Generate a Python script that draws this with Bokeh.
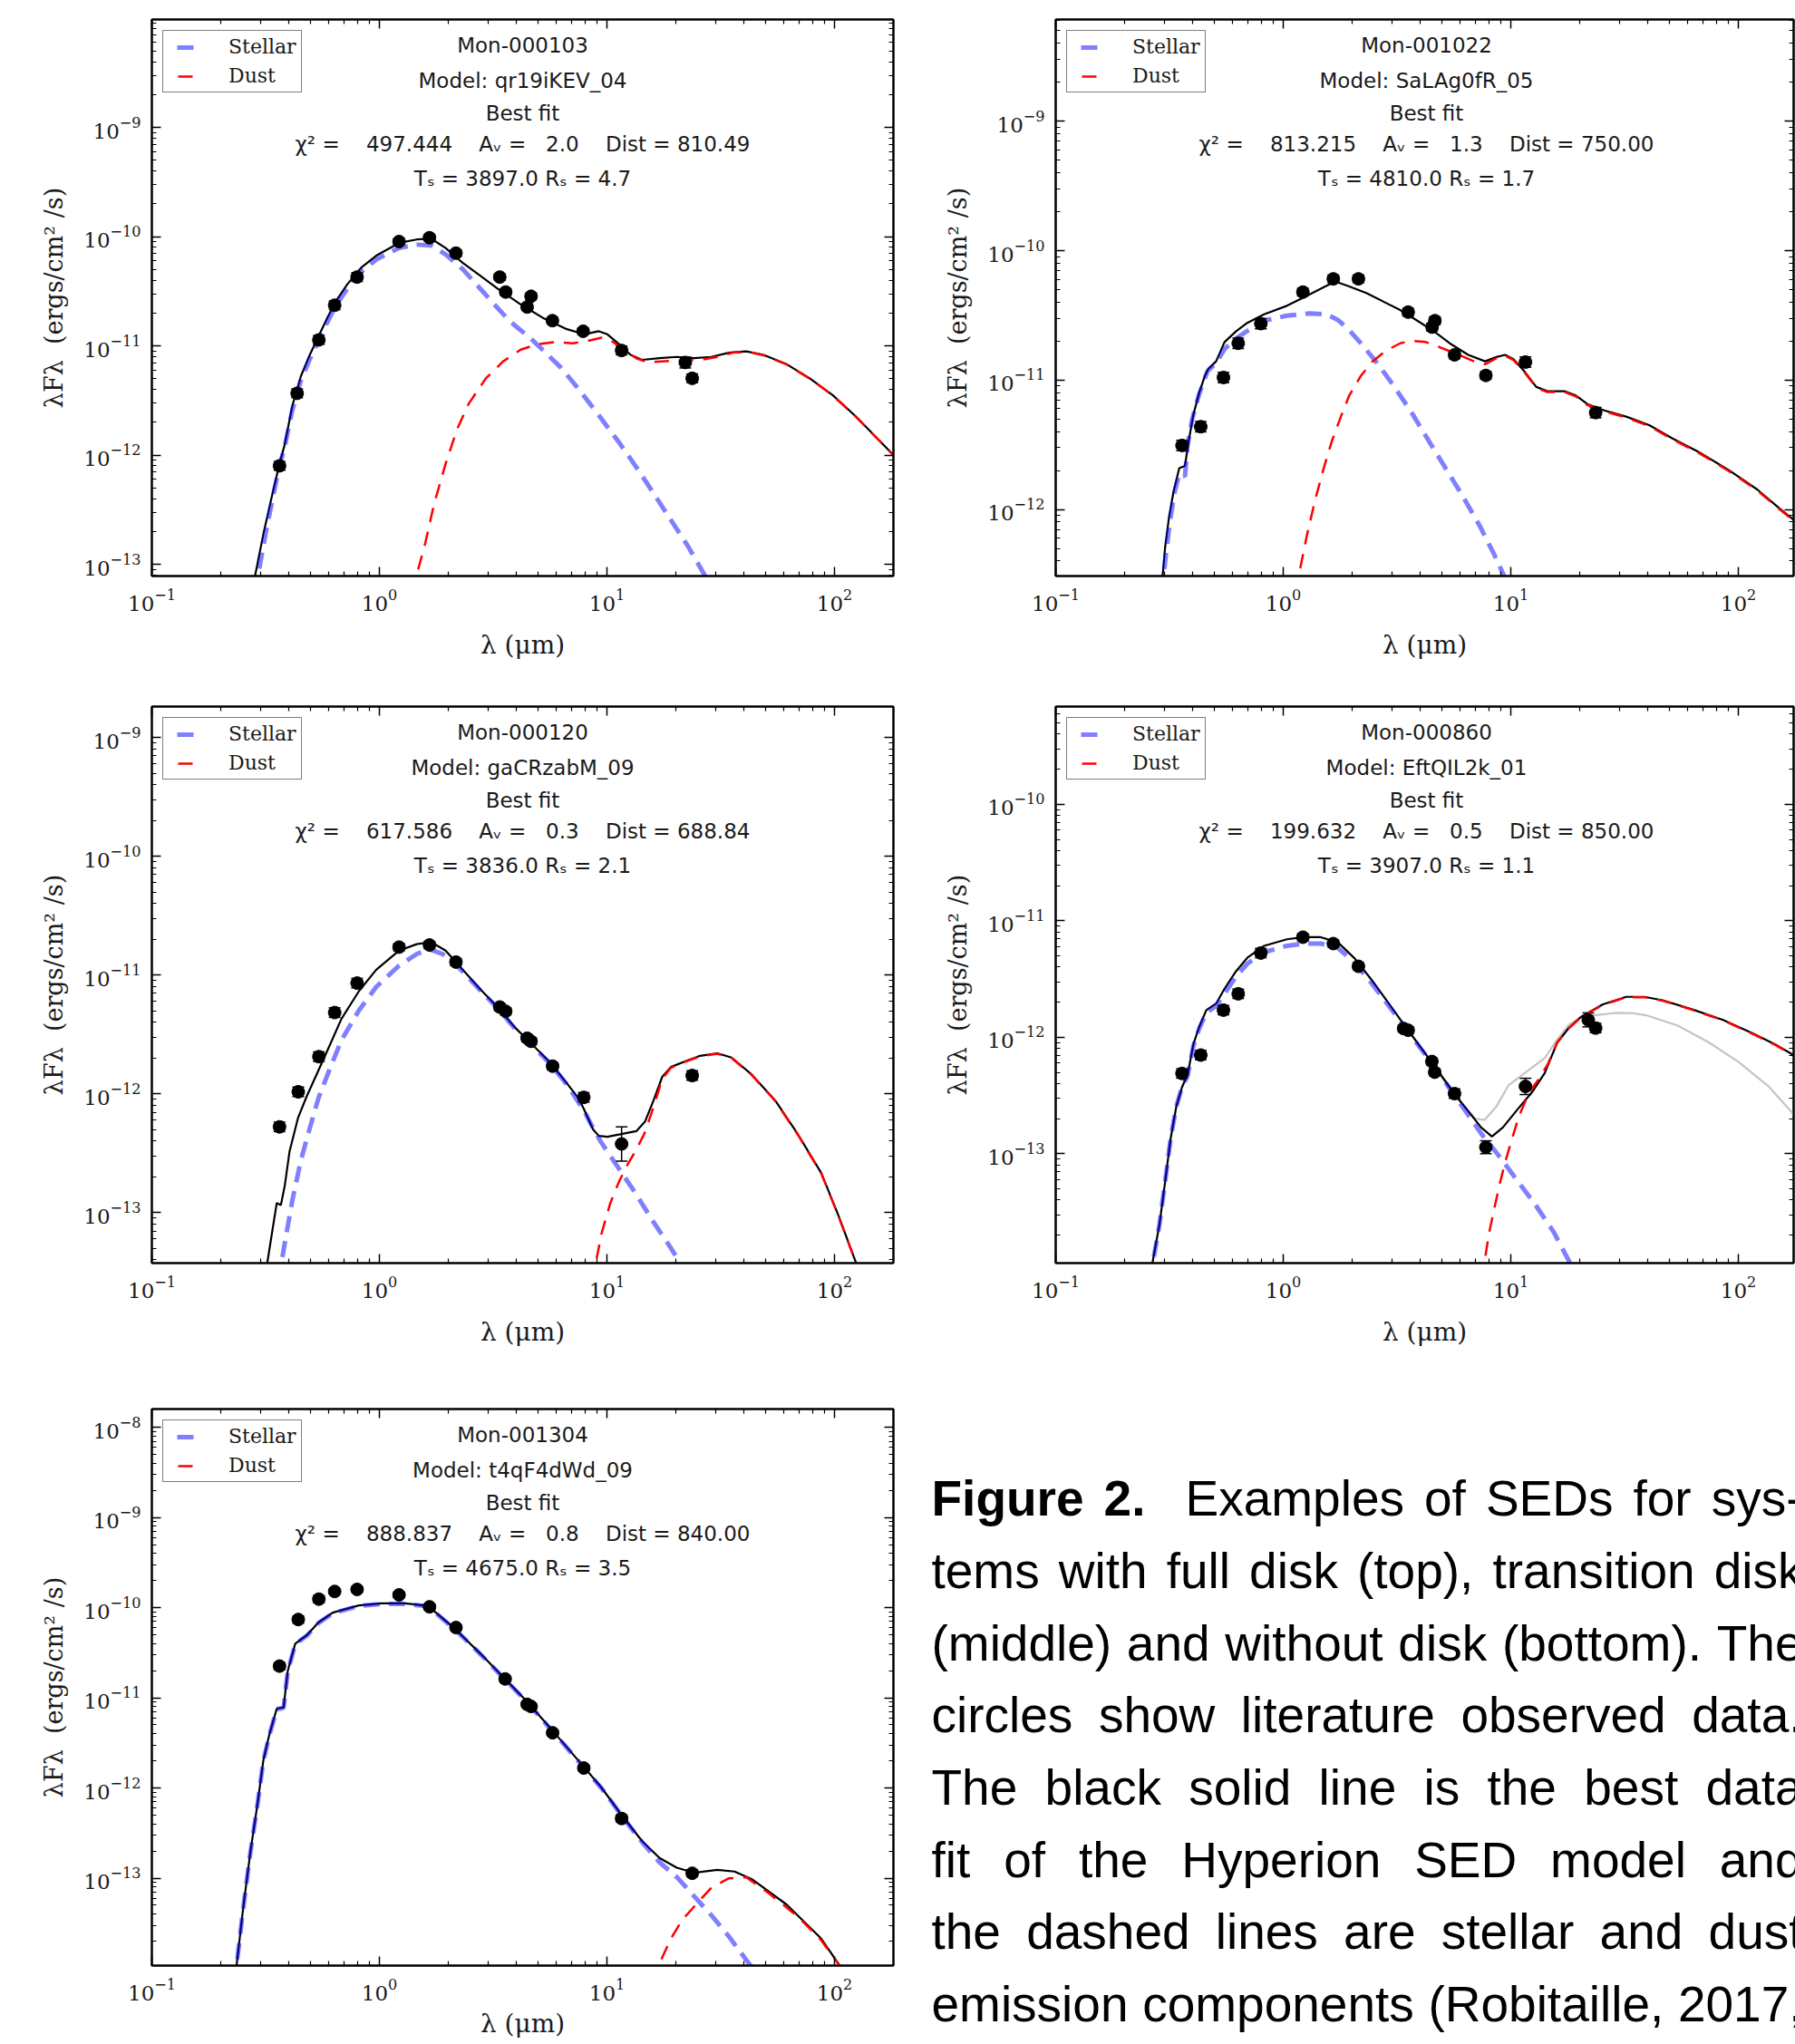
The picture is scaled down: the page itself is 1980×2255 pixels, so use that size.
import numpy as np
from bokeh.plotting import figure
from bokeh.models import (ColumnDataSource, Range1d, LogAxis, FixedTicker,
                          CustomJSTickFormatter, Legend, LegendItem,
                          Whisker, TeeHead)
from bokeh.layouts import column, row
from bokeh.embed import file_html
from bokeh.resources import INLINE
from bokeh.core.properties import value

# ----------------------------------------------------------------- data
X_TICKS = [0.1, 1.0, 10.0, 100.0]

SOURCE_NAMES = ["Mon-000103", "Mon-001022", "Mon-000120", "Mon-000860", "Mon-001304"]
MODEL_NAMES = ["qr19iKEV_04", "SaLAg0fR_05", "gaCRzabM_09", "EftQIL2k_01", "t4qF4dWd_09"]
CHI2 = [497.444, 813.215, 617.586, 199.632, 888.837]
AV = [2.0, 1.3, 0.3, 0.5, 0.8]
DIST = [810.49, 750.00, 688.84, 850.00, 840.00]
TSTAR = [3897.0, 4810.0, 3836.0, 3907.0, 4675.0]
RSTAR = [4.7, 1.7, 2.1, 1.1, 3.5]

# y-axis limits (log10 of erg/cm^2/s) and major y ticks per panel
Y_LOG_LIMITS = [(-13.106, -8.011), (-12.514, -8.214), (-13.425, -8.740),
                (-13.939, -9.161), (-13.970, -7.798)]
Y_TICKS = [[1e-13, 1e-12, 1e-11, 1e-10, 1e-9],
           [1e-12, 1e-11, 1e-10, 1e-9],
           [1e-13, 1e-12, 1e-11, 1e-10, 1e-9],
           [1e-13, 1e-12, 1e-11, 1e-10],
           [1e-13, 1e-12, 1e-11, 1e-10, 1e-9, 1e-8]]

# ---- panel 1 : Mon-000103
P1_OBS_LAM = [0.364, 0.435, 0.542, 0.636, 0.798, 1.22, 1.66, 2.17, 3.38, 3.59, 4.64, 4.46, 5.76, 7.86, 11.6, 22.1, 23.7]
P1_OBS_LOGF = [-12.097, -11.433, -10.944, -10.627, -10.369, -10.044, -10.009, -10.150, -10.369, -10.506, -10.545, -10.643, -10.768, -10.865, -11.041, -11.151, -11.296]
P1_OBS_ERR = [0.04, 0.04, 0.04, 0.04, 0.04, 0.03, 0.03, 0.03, 0.03, 0.03, 0.03, 0.03, 0.03, 0.03, 0.04, 0.05, 0.04]
P1_TOT_LOGLAM = [-0.548, -0.510, -0.472, -0.439, -0.416, -0.383, -0.345, -0.306, -0.266, -0.230, -0.192, -0.141, -0.078, -0.014, 0.087, 0.164, 0.227, 0.291, 0.367, 0.443, 0.519, 0.621, 0.723, 0.824, 0.900, 0.964, 1.002, 1.053, 1.104, 1.154, 1.231, 1.307, 1.383, 1.459, 1.536, 1.612, 1.688, 1.790, 1.891, 1.993, 2.095, 2.196, 2.260]
P1_TOT_LOGF = [-13.12, -12.723, -12.371, -12.078, -11.902, -11.550, -11.276, -11.081, -10.905, -10.748, -10.592, -10.435, -10.279, -10.173, -10.056, -10.025, -10.017, -10.103, -10.240, -10.357, -10.474, -10.619, -10.748, -10.846, -10.893, -10.865, -10.893, -10.983, -11.081, -11.127, -11.112, -11.100, -11.112, -11.100, -11.061, -11.049, -11.081, -11.167, -11.296, -11.452, -11.648, -11.863, -12.000]
P1_STAR_LOGLAM = [-0.535, -0.497, -0.459, -0.439, -0.416, -0.383, -0.345, -0.306, -0.266, -0.230, -0.192, -0.141, -0.078, -0.014, 0.087, 0.164, 0.227, 0.291, 0.367, 0.468, 0.570, 0.672, 0.796, 0.875, 0.969, 1.053, 1.142, 1.218, 1.284, 1.358, 1.429, 1.445]
P1_STAR_LOGF = [-13.12, -12.684, -12.293, -12.097, -11.921, -11.589, -11.315, -11.120, -10.944, -10.787, -10.631, -10.474, -10.318, -10.208, -10.103, -10.072, -10.079, -10.162, -10.298, -10.533, -10.768, -10.944, -11.194, -11.393, -11.648, -11.882, -12.148, -12.391, -12.602, -12.840, -13.095, -13.15]
P1_DUST_LOGLAM = [0.159, 0.202, 0.240, 0.291, 0.341, 0.392, 0.468, 0.545, 0.621, 0.697, 0.773, 0.850, 0.913, 0.977, 1.027, 1.078, 1.129, 1.180, 1.256, 1.332, 1.409, 1.485, 1.561, 1.637, 1.688, 1.790, 1.891, 1.993, 2.095, 2.196, 2.260]
P1_DUST_LOGF = [-13.134, -12.801, -12.449, -12.078, -11.765, -11.530, -11.296, -11.139, -11.034, -10.983, -10.963, -10.975, -10.955, -10.924, -10.963, -11.041, -11.112, -11.151, -11.139, -11.131, -11.127, -11.100, -11.057, -11.061, -11.085, -11.170, -11.298, -11.454, -11.650, -11.865, -12.002]

# ---- panel 2 : Mon-001022
P2_OBS_LAM = [0.359, 0.434, 0.546, 0.634, 0.797, 1.22, 1.66, 2.14, 3.54, 4.51, 4.64, 5.66, 7.77, 11.6, 23.6]
P2_OBS_LOGF = [-11.505, -11.360, -10.980, -10.716, -10.564, -10.320, -10.218, -10.218, -10.475, -10.591, -10.541, -10.805, -10.964, -10.861, -11.251]
P2_OBS_ERR = [0.04, 0.04, 0.04, 0.04, 0.04, 0.03, 0.03, 0.03, 0.03, 0.03, 0.03, 0.03, 0.03, 0.04, 0.04]
P2_TOT_LOGLAM = [-0.532, -0.519, -0.502, -0.482, -0.457, -0.432, -0.415, -0.395, -0.370, -0.345, -0.328, -0.295, -0.258, -0.208, -0.158, -0.084, 0.016, 0.091, 0.165, 0.228, 0.290, 0.365, 0.439, 0.514, 0.589, 0.663, 0.738, 0.813, 0.887, 0.937, 0.975, 1.012, 1.062, 1.112, 1.161, 1.236, 1.286, 1.336, 1.410, 1.510, 1.610, 1.709, 1.834, 1.958, 2.083, 2.182, 2.252]
P2_TOT_LOGF = [-12.55, -12.290, -12.059, -11.861, -11.680, -11.663, -11.465, -11.267, -11.102, -10.970, -10.911, -10.855, -10.706, -10.624, -10.558, -10.492, -10.426, -10.360, -10.294, -10.238, -10.277, -10.327, -10.393, -10.459, -10.541, -10.624, -10.723, -10.805, -10.855, -10.822, -10.805, -10.838, -10.937, -11.053, -11.086, -11.086, -11.119, -11.185, -11.234, -11.284, -11.350, -11.449, -11.564, -11.696, -11.845, -11.993, -12.092]
P2_STAR_LOGLAM = [-0.527, -0.512, -0.495, -0.477, -0.457, -0.442, -0.432, -0.420, -0.400, -0.370, -0.333, -0.295, -0.258, -0.208, -0.158, -0.084, 0.016, 0.116, 0.190, 0.240, 0.290, 0.340, 0.414, 0.489, 0.564, 0.638, 0.713, 0.788, 0.863, 0.925, 0.975]
P2_STAR_LOGF = [-12.53, -12.290, -12.059, -11.861, -11.729, -11.729, -11.746, -11.498, -11.300, -11.110, -10.930, -10.870, -10.760, -10.680, -10.620, -10.541, -10.502, -10.485, -10.492, -10.535, -10.614, -10.713, -10.871, -11.053, -11.251, -11.465, -11.680, -11.894, -12.125, -12.340, -12.53]
P2_DUST_LOGLAM = [0.066, 0.103, 0.140, 0.178, 0.215, 0.253, 0.290, 0.340, 0.389, 0.452, 0.514, 0.564, 0.626, 0.688, 0.763, 0.838, 0.887, 0.937, 0.975, 1.012, 1.062, 1.112, 1.161, 1.236, 1.286, 1.336, 1.410, 1.510, 1.610, 1.709, 1.834, 1.958, 2.083, 2.182, 2.252]
P2_DUST_LOGF = [-12.53, -12.208, -11.927, -11.680, -11.465, -11.284, -11.119, -10.970, -10.861, -10.772, -10.716, -10.696, -10.706, -10.746, -10.799, -10.855, -10.878, -10.830, -10.812, -10.845, -10.944, -11.060, -11.093, -11.093, -11.126, -11.192, -11.241, -11.291, -11.357, -11.456, -11.571, -11.703, -11.852, -12.000, -12.099]

# ---- panel 3 : Mon-000120
P3_OBS_LAM = [0.364, 0.440, 0.542, 0.636, 0.798, 1.22, 1.66, 2.17, 3.38, 3.59, 4.46, 4.64, 5.77, 7.91, 11.6, 23.7]
P3_OBS_LOGF = [-12.278, -11.983, -11.687, -11.316, -11.068, -10.765, -10.747, -10.891, -11.269, -11.305, -11.532, -11.558, -11.767, -12.030, -12.422, -11.846]
P3_OBS_ERR = [0.04, 0.04, 0.04, 0.04, 0.04, 0.03, 0.03, 0.03, 0.03, 0.03, 0.03, 0.03, 0.03, 0.04, 0.144, 0.04]
P3_TOT_LOGLAM = [-0.495, -0.472, -0.451, -0.433, -0.416, -0.395, -0.357, -0.319, -0.268, -0.217, -0.167, -0.090, -0.014, 0.087, 0.164, 0.227, 0.291, 0.367, 0.443, 0.519, 0.596, 0.672, 0.748, 0.824, 0.875, 0.900, 0.939, 0.964, 1.002, 1.053, 1.129, 1.167, 1.205, 1.243, 1.281, 1.358, 1.409, 1.485, 1.548, 1.637, 1.739, 1.840, 1.942, 2.018, 2.095, 2.105]
P3_TOT_LOGF = [-13.45, -13.171, -12.919, -12.937, -12.775, -12.487, -12.199, -12.019, -11.803, -11.586, -11.370, -11.136, -10.956, -10.794, -10.740, -10.722, -10.794, -10.956, -11.118, -11.269, -11.442, -11.586, -11.731, -11.911, -12.037, -12.134, -12.300, -12.354, -12.361, -12.343, -12.314, -12.235, -12.055, -11.857, -11.774, -11.716, -11.680, -11.659, -11.695, -11.839, -12.055, -12.343, -12.667, -13.027, -13.424, -13.47]
P3_STAR_LOGLAM = [-0.433, -0.408, -0.383, -0.345, -0.306, -0.268, -0.217, -0.167, -0.090, -0.014, 0.087, 0.164, 0.220, 0.278, 0.341, 0.443, 0.519, 0.596, 0.672, 0.748, 0.824, 0.900, 0.939, 0.977, 1.053, 1.129, 1.205, 1.281, 1.327, 1.335]
P3_STAR_LOGF = [-13.45, -13.171, -12.901, -12.559, -12.289, -12.037, -11.785, -11.550, -11.298, -11.100, -10.920, -10.823, -10.783, -10.823, -10.920, -11.128, -11.279, -11.452, -11.596, -11.741, -11.921, -12.145, -12.289, -12.415, -12.631, -12.847, -13.081, -13.298, -13.442, -13.47]
P3_DUST_LOGLAM = [0.946, 0.977, 1.015, 1.053, 1.091, 1.129, 1.167, 1.205, 1.243, 1.281, 1.358, 1.409, 1.485, 1.548, 1.637, 1.739, 1.840, 1.942, 2.018, 2.095, 2.105]
P3_DUST_LOGF = [-13.47, -13.171, -12.919, -12.739, -12.595, -12.469, -12.325, -12.109, -11.875, -11.781, -11.720, -11.684, -11.663, -11.699, -11.843, -12.059, -12.347, -12.671, -13.031, -13.428, -13.47]

# ---- panel 4 : Mon-000860
P4_OBS_LAM = [0.359, 0.434, 0.546, 0.634, 0.797, 1.22, 1.66, 2.14, 3.38, 3.54, 4.50, 4.63, 5.66, 7.77, 11.6, 21.9, 23.6]
P4_OBS_LOGF = [-12.311, -12.153, -11.767, -11.627, -11.277, -11.141, -11.196, -11.391, -11.925, -11.940, -12.208, -12.300, -12.484, -12.944, -12.422, -11.851, -11.921]
P4_OBS_ERR = [0.04, 0.04, 0.04, 0.04, 0.04, 0.03, 0.03, 0.03, 0.03, 0.03, 0.03, 0.03, 0.04, 0.055, 0.07, 0.06, 0.04]
P4_TOT_LOGLAM = [-0.577, -0.544, -0.519, -0.495, -0.470, -0.445, -0.420, -0.395, -0.370, -0.338, -0.295, -0.258, -0.208, -0.158, -0.084, 0.016, 0.091, 0.165, 0.240, 0.315, 0.389, 0.464, 0.539, 0.658, 0.765, 0.870, 0.917, 0.965, 1.029, 1.097, 1.149, 1.204, 1.256, 1.308, 1.403, 1.507, 1.587, 1.667, 1.801, 1.933, 2.065, 2.172, 2.252]
P4_TOT_LOGF = [-13.96, -13.607, -13.239, -12.871, -12.595, -12.429, -12.319, -12.061, -11.914, -11.767, -11.711, -11.583, -11.435, -11.318, -11.215, -11.159, -11.141, -11.141, -11.185, -11.325, -11.509, -11.711, -11.914, -12.230, -12.517, -12.775, -12.852, -12.775, -12.621, -12.462, -12.308, -12.046, -11.918, -11.826, -11.719, -11.653, -11.653, -11.682, -11.763, -11.851, -11.969, -12.072, -12.164]
P4_STAR_LOGLAM = [-0.575, -0.544, -0.519, -0.495, -0.470, -0.445, -0.420, -0.395, -0.370, -0.338, -0.295, -0.258, -0.208, -0.158, -0.084, 0.016, 0.091, 0.165, 0.240, 0.315, 0.389, 0.464, 0.539, 0.658, 0.765, 0.870, 0.945, 1.029, 1.104, 1.189, 1.266]
P4_STAR_LOGF = [-13.96, -13.607, -13.239, -12.871, -12.595, -12.429, -12.330, -12.075, -11.930, -11.790, -11.730, -11.627, -11.480, -11.369, -11.270, -11.215, -11.196, -11.196, -11.233, -11.362, -11.538, -11.730, -11.925, -12.238, -12.532, -12.827, -13.011, -13.232, -13.427, -13.673, -13.96]
P4_DUST_LOGLAM = [0.882, 0.904, 0.924, 0.950, 0.977, 1.004, 1.037, 1.083, 1.123, 1.163, 1.203, 1.256, 1.308, 1.403, 1.507, 1.587, 1.667, 1.801, 1.933, 2.065, 2.172, 2.252]
P4_DUST_LOGF = [-13.96, -13.686, -13.503, -13.269, -13.061, -12.880, -12.672, -12.464, -12.360, -12.230, -12.048, -11.922, -11.830, -11.723, -11.657, -11.657, -11.686, -11.767, -11.855, -11.973, -12.076, -12.168]
P4_ALT_LOGLAM = [0.658, 0.738, 0.844, 0.884, 0.937, 0.990, 1.044, 1.097, 1.150, 1.203, 1.256, 1.309, 1.375, 1.468, 1.535, 1.601, 1.734, 1.867, 2.000, 2.132, 2.252]
P4_ALT_LOGF = [-12.235, -12.464, -12.698, -12.711, -12.594, -12.412, -12.333, -12.256, -12.178, -12.022, -11.892, -11.827, -11.809, -11.790, -11.793, -11.814, -11.900, -12.040, -12.210, -12.420, -12.680]

# ---- panel 5 : Mon-001304
P5_OBS_LAM = [0.364, 0.440, 0.542, 0.636, 0.798, 1.22, 1.66, 2.17, 3.57, 4.46, 4.64, 5.77, 7.91, 11.6, 23.7]
P5_OBS_LOGF = [-10.649, -10.132, -9.906, -9.821, -9.798, -9.859, -9.991, -10.221, -10.791, -11.073, -11.096, -11.388, -11.779, -12.339, -12.946]
P5_OBS_ERR = [0.04, 0.04, 0.04, 0.03, 0.03, 0.03, 0.03, 0.03, 0.03, 0.03, 0.03, 0.03, 0.03, 0.04, 0.04]
P5_TOT_LOGLAM = [-0.629, -0.599, -0.568, -0.535, -0.510, -0.484, -0.451, -0.421, -0.403, -0.370, -0.319, -0.268, -0.205, -0.090, 0.011, 0.113, 0.214, 0.336, 0.443, 0.552, 0.646, 0.761, 0.898, 0.977, 1.066, 1.154, 1.231, 1.307, 1.383, 1.485, 1.561, 1.637, 1.790, 1.942, 2.031]
P5_TOT_LOGF = [-14.0, -13.341, -12.729, -12.165, -11.694, -11.412, -11.120, -11.106, -10.706, -10.400, -10.306, -10.165, -10.056, -9.976, -9.953, -9.953, -9.981, -10.245, -10.508, -10.791, -11.035, -11.365, -11.765, -12.000, -12.306, -12.588, -12.776, -12.885, -12.941, -12.908, -12.927, -13.012, -13.294, -13.671, -14.0]
P5_STAR_LOGLAM = [-0.629, -0.599, -0.568, -0.535, -0.510, -0.484, -0.451, -0.421, -0.403, -0.370, -0.319, -0.268, -0.205, -0.090, 0.011, 0.113, 0.214, 0.336, 0.443, 0.552, 0.646, 0.761, 0.898, 0.977, 1.066, 1.154, 1.231, 1.307, 1.383, 1.459, 1.536, 1.612, 1.640]
P5_STAR_LOGF = [-14.0, -13.345, -12.735, -12.170, -11.700, -11.418, -11.126, -11.112, -10.712, -10.406, -10.312, -10.171, -10.062, -9.982, -9.959, -9.959, -9.987, -10.251, -10.514, -10.797, -11.041, -11.371, -11.771, -12.006, -12.312, -12.600, -12.824, -12.988, -13.200, -13.412, -13.647, -13.906, -14.0]
P5_DUST_LOGLAM = [1.221, 1.281, 1.332, 1.396, 1.459, 1.536, 1.612, 1.713, 1.840, 1.942, 2.031]
P5_DUST_LOGF = [-14.0, -13.671, -13.459, -13.280, -13.106, -13.002, -12.990, -13.170, -13.430, -13.690, -14.0]

CAPTION_BOLD = ["Figure", "2."]
CAPTION_LINES = [
    "Examples of SEDs for sys-",
    "tems with full disk (top), transition disk",
    "(middle) and without disk (bottom). The",
    "circles show literature observed data.",
    "The black solid line is the best data",
    "fit of the Hyperion SED model and",
    "the dashed lines are stellar and dust",
    "emission components (Robitaille, 2017,",
]

# ----------------------------------------------------------------- layout constants
PAGE_W, PAGE_H = 1980, 2255
PX_DEC_X = 251.0          # pixels per decade along x
FRAME_H = 614
LEFT_FRAME_W = 818
RIGHT_FRAME_W = 814
LEFT_B = 167
ROW_BORDERS = [(21, 110), (34, 110), (51, 87)]   # (top, bottom) per row
TITLE_OFFSETS = [28.5, 67.0, 103.5, 137.5, 175.0]
SERIF = "DejaVu Serif"
SANS = "DejaVu Sans"
NB = "\u00a0"


def minor_ticks(lo, hi):
    out = []
    for n in range(int(np.floor(lo)) - 1, int(np.ceil(hi)) + 1):
        for k in range(2, 10):
            v = k * 10.0 ** n
            if 10 ** lo < v < 10 ** hi:
                out.append(v)
    return out


def style_axis(ax):
    ax.axis_line_color = "black"
    ax.axis_line_width = 2
    ax.major_tick_in = 10
    ax.major_tick_out = 0
    ax.minor_tick_in = 5
    ax.minor_tick_out = 0
    ax.major_tick_line_width = 1.5
    ax.minor_tick_line_width = 1.2
    ax.major_tick_line_color = "black"
    ax.minor_tick_line_color = "black"
    ax.major_label_text_font = SERIF
    ax.major_label_text_font_size = "23px"
    ax.major_label_text_color = "#1a1a1a"


def make_panel(i, obs_lam, obs_logf, obs_err, tot, star, dust, alt,
               frame_w, right_b, top_b, bottom_b, xlabel_standoff=18):
    lo, hi = Y_LOG_LIMITS[i]
    xmax = 10 ** (-1 + frame_w / PX_DEC_X)
    p = figure(frame_width=frame_w, frame_height=FRAME_H,
               x_axis_type="log", y_axis_type="log",
               x_range=Range1d(0.1, xmax), y_range=Range1d(10 ** lo, 10 ** hi),
               output_backend="svg", toolbar_location=None,
               min_border_left=LEFT_B, min_border_right=right_b,
               min_border_top=top_b, min_border_bottom=bottom_b)
    p.grid.visible = False
    p.outline_line_color = "black"
    p.outline_line_width = 2
    p.background_fill_color = "white"
    p.border_fill_color = "white"
    p.align = "start"

    xt = FixedTicker(ticks=X_TICKS, minor_ticks=minor_ticks(-1, np.log10(xmax)))
    yt = FixedTicker(ticks=Y_TICKS[i], minor_ticks=minor_ticks(lo, hi))

    xa = p.xaxis[0]
    ya = p.yaxis[0]
    xa.ticker = xt
    ya.ticker = yt
    for ax in (xa, ya):
        style_axis(ax)
    xa.major_label_standoff = 14
    ya.major_label_standoff = 12
    xa.axis_label = "λ (μm)"
    xa.axis_label_text_font = SERIF
    xa.axis_label_text_font_size = "28px"
    xa.axis_label_text_font_style = "normal"
    xa.axis_label_standoff = xlabel_standoff
    xa.axis_label_text_color = "#1a1a1a"
    ya.axis_label = "λFλ" + NB + NB + "(ergs/cm²" + NB + "/s)"
    ya.axis_label_text_font = SERIF
    ya.axis_label_text_font_size = "27px"
    ya.axis_label_text_font_style = "normal"
    ya.axis_label_standoff = 14
    ya.axis_label_text_color = "#1a1a1a"

    top_ax = LogAxis(ticker=xt, formatter=CustomJSTickFormatter(code="return ''"))
    right_ax = LogAxis(ticker=yt, formatter=CustomJSTickFormatter(code="return ''"))
    for ax in (top_ax, right_ax):
        style_axis(ax)
        ax.major_label_text_font_size = "1px"
        ax.major_label_standoff = 0
    p.add_layout(top_ax, "above")
    p.add_layout(right_ax, "right")

    # model curves
    if alt is not None:
        p.line(10 ** np.array(alt[0]), 10 ** np.array(alt[1]), line_color="#c4c4c4", line_width=2.2)
    p.line(10 ** np.array(tot[0]), 10 ** np.array(tot[1]), line_color="black", line_width=2.2)
    r_st = p.line(10 ** np.array(star[0]), 10 ** np.array(star[1]), line_color="blue",
                  line_alpha=0.5, line_width=5, line_dash="18 10", line_dash_offset=18)
    r_du = p.line(10 ** np.array(dust[0]), 10 ** np.array(dust[1]), line_color="red",
                  line_width=2.5, line_dash="16 11", line_dash_offset=16)

    # observations with error bars
    lf = np.array(obs_logf)
    er = np.array(obs_err)
    src = ColumnDataSource(dict(lam=obs_lam, f=10 ** lf, lo=10 ** (lf - er), hi=10 ** (lf + er)))
    wh = Whisker(source=src, base="lam", upper="hi", lower="lo", dimension="height",
                 line_color="black", line_width=1.5,
                 upper_head=TeeHead(size=13, line_color="black", line_width=1.5),
                 lower_head=TeeHead(size=13, line_color="black", line_width=1.5))
    p.add_layout(wh)
    p.scatter("lam", "f", source=src, marker="circle", size=14, color="black")

    # legend
    leg = Legend(items=[LegendItem(label="Stellar", renderers=[r_st]),
                        LegendItem(label="Dust", renderers=[r_du])],
                 location="top_left", margin=12, padding=5, spacing=7,
                 glyph_width=29, glyph_height=20, label_standoff=38,
                 label_text_font=SERIF, label_text_font_size="22px",
                 label_text_color="#1a1a1a",
                 border_line_color="black", border_line_width=1.5,
                 background_fill_color="white", background_fill_alpha=1.0)
    p.add_layout(leg)

    # title block
    ppd = FRAME_H / (hi - lo)
    xc = 10 ** (-1 + 0.5 * LEFT_FRAME_W / PX_DEC_X)
    chi_line = ("χ²" + NB + "=" + NB * 4 + "%.3f" + NB * 4 + "Aᵥ" + NB + "=" + NB * 3 + "%.1f"
                + NB * 4 + "Dist" + NB + "=" + NB + "%.2f") % (CHI2[i], AV[i], DIST[i])
    lines = [SOURCE_NAMES[i], "Model: " + MODEL_NAMES[i], "Best fit", chi_line,
             "Tₛ = %.1f Rₛ = %.1f" % (TSTAR[i], RSTAR[i])]
    ys = [10 ** (hi - off / ppd) for off in TITLE_OFFSETS]
    tsrc = ColumnDataSource(dict(x=[xc] * len(lines), y=ys, t=lines))
    p.text("x", "y", text="t", source=tsrc, text_font=value(SANS),
           text_font_size=value("23px"), text_align="center",
           text_baseline="middle", text_color="#1a1a1a")
    return p


f1 = make_panel(0, P1_OBS_LAM, P1_OBS_LOGF, P1_OBS_ERR, (P1_TOT_LOGLAM, P1_TOT_LOGF),
                (P1_STAR_LOGLAM, P1_STAR_LOGF), (P1_DUST_LOGLAM, P1_DUST_LOGF), None,
                LEFT_FRAME_W, 12, *ROW_BORDERS[0])
f2 = make_panel(1, P2_OBS_LAM, P2_OBS_LOGF, P2_OBS_ERR, (P2_TOT_LOGLAM, P2_TOT_LOGF),
                (P2_STAR_LOGLAM, P2_STAR_LOGF), (P2_DUST_LOGLAM, P2_DUST_LOGF), None,
                RIGHT_FRAME_W, 2, *ROW_BORDERS[0])
f3 = make_panel(2, P3_OBS_LAM, P3_OBS_LOGF, P3_OBS_ERR, (P3_TOT_LOGLAM, P3_TOT_LOGF),
                (P3_STAR_LOGLAM, P3_STAR_LOGF), (P3_DUST_LOGLAM, P3_DUST_LOGF), None,
                LEFT_FRAME_W, 12, *ROW_BORDERS[1])
f4 = make_panel(3, P4_OBS_LAM, P4_OBS_LOGF, P4_OBS_ERR, (P4_TOT_LOGLAM, P4_TOT_LOGF),
                (P4_STAR_LOGLAM, P4_STAR_LOGF), (P4_DUST_LOGLAM, P4_DUST_LOGF),
                (P4_ALT_LOGLAM, P4_ALT_LOGF),
                RIGHT_FRAME_W, 2, *ROW_BORDERS[1])
f5 = make_panel(4, P5_OBS_LAM, P5_OBS_LOGF, P5_OBS_ERR, (P5_TOT_LOGLAM, P5_TOT_LOGF),
                (P5_STAR_LOGLAM, P5_STAR_LOGF), (P5_DUST_LOGLAM, P5_DUST_LOGF), None,
                LEFT_FRAME_W, 12, *ROW_BORDERS[2], xlabel_standoff=6)

# ----------------------------------------------------------------- caption (justified)
REG_W = dict(zip("abcdefghijklmnopqrstuvwxyz",
                 [556, 556, 500, 556, 556, 278, 556, 556, 222, 222, 500, 222, 833,
                  556, 556, 556, 556, 333, 500, 278, 556, 500, 722, 500, 500, 500]))
REG_W.update(dict(zip("ABCDEFGHIJKLMNOPQRSTUVWXYZ",
                      [667, 667, 722, 722, 667, 611, 778, 722, 278, 500, 667, 556, 833,
                       722, 778, 667, 778, 722, 667, 611, 722, 667, 944, 667, 667, 611])))
REG_W.update({c: 556 for c in "0123456789"})
REG_W.update({" ": 278, ".": 278, ",": 278, "-": 333, "(": 333, ")": 333})
BOLD_W = dict(REG_W)
BOLD_W.update({"F": 611, "i": 278, "g": 611, "u": 611, "r": 389, "e": 556, "2": 556})

CAP_SIZE = 55
CAP_X0, CAP_X1 = 1027.0, 1988.0
CAP_BASE0, CAP_LEAD = 1671.7, 79.7
CAP_SHIFT = 70.0          # measured vertical offset of the caption panel's drawing area
CAP_LEFT = LEFT_B + LEFT_FRAME_W + 12
CAP_TOP = PAGE_H - (ROW_BORDERS[2][0] + FRAME_H + ROW_BORDERS[2][1])
cap_w = PAGE_W - CAP_LEFT
cap_h = PAGE_H - CAP_TOP

reg = dict(x=[], y=[], t=[])
bold = dict(x=[], y=[], t=[])
for li, line in enumerate(CAPTION_LINES):
    words = (CAPTION_BOLD if li == 0 else []) + line.split(" ")
    isbold = [li == 0 and k < len(CAPTION_BOLD) for k in range(len(words))]
    widths = [sum((BOLD_W if b else REG_W).get(c, 556) for c in w) * CAP_SIZE / 1000.0
              for w, b in zip(words, isbold)]
    weights = [2.0 if (li == 0 and k == len(CAPTION_BOLD) - 1) else 1.0
               for k in range(len(words) - 1)]
    unit = ((CAP_X1 - CAP_X0) - sum(widths)) / sum(weights)
    x = CAP_X0
    yb = CAP_BASE0 + li * CAP_LEAD - CAP_SHIFT
    for k, (w, wd, b) in enumerate(zip(words, widths, isbold)):
        d = bold if b else reg
        d["x"].append(x - CAP_LEFT)
        d["y"].append(cap_h - (yb - CAP_TOP))
        d["t"].append(w)
        if k < len(weights):
            x += wd + unit * weights[k]

cap = figure(frame_width=cap_w, frame_height=cap_h, x_range=Range1d(0, cap_w),
             y_range=Range1d(0, cap_h), x_axis_location=None, y_axis_location=None,
             toolbar_location=None, output_backend="svg", title=None,
             min_border_left=0, min_border_right=0, min_border_top=0, min_border_bottom=0,
             outline_line_color=None)
cap.grid.visible = False
cap.border_fill_color = "white"
cap.background_fill_color = "white"
cap.align = "start"
cap.text("x", "y", text="t", source=ColumnDataSource(reg), text_font=value("Liberation Sans"),
         text_font_size=value("%dpx" % CAP_SIZE), text_baseline="alphabetic",
         text_align="left", text_color="black")
cap.text("x", "y", text="t", source=ColumnDataSource(bold), text_font=value("Liberation Sans"),
         text_font_size=value("%dpx" % CAP_SIZE), text_font_style="bold",
         text_baseline="alphabetic", text_align="left", text_color="black")

layout = column(row(f1, f2), row(f3, f4), row(f5, cap))
open("out.html", "w").write(file_html(layout, INLINE))
